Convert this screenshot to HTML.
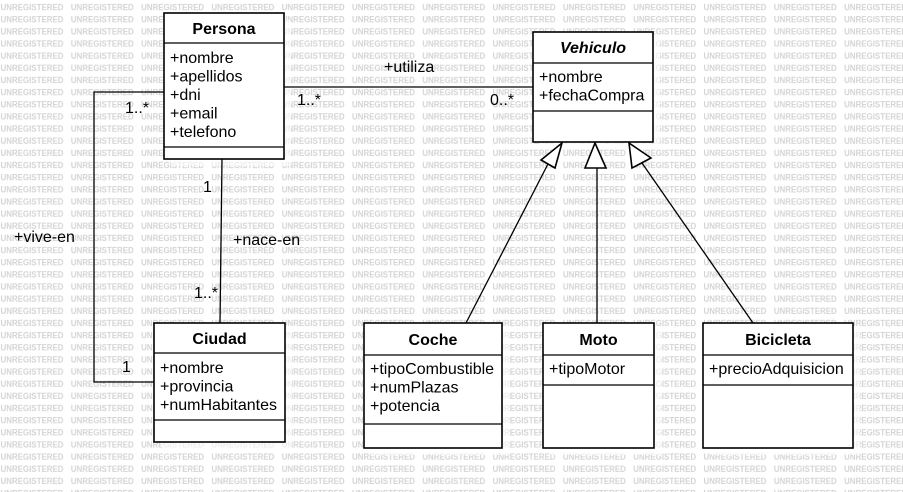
<!DOCTYPE html>
<html><head><meta charset="utf-8"><style>
html,body{margin:0;padding:0;background:#fff;}
svg{display:block;}
text{font-family:"Liberation Sans",Arial,sans-serif;}
.t{font-size:16px;font-weight:bold;text-anchor:middle;fill:#000;}
.a{font-size:16px;fill:#000;}
.l{font-size:16px;fill:#000;}
.b{fill:#fff;stroke:#000;stroke-width:1.6;}
.s{fill:#fff;opacity:0.6;}
.ln{stroke:#000;stroke-width:1.3;fill:none;}
</style></head><body>
<svg width="903" height="492" viewBox="0 0 903 492" xmlns="http://www.w3.org/2000/svg">
<defs>
<pattern id="wm" x="0" y="0" width="70.3" height="12.15" patternUnits="userSpaceOnUse">
<text x="0.5" y="10.3" font-size="9" font-weight="bold" fill="#d4d4d4" textLength="63" lengthAdjust="spacingAndGlyphs" style="font-family:'Liberation Sans',sans-serif">UNREGISTERED</text>
</pattern>
</defs>
<rect width="903" height="492" fill="#fff"/>
<rect width="903" height="492" fill="url(#wm)"/>

<rect class="s" x="171" y="20" width="120" height="146"/>
<rect class="s" x="540" y="39" width="120" height="110"/>
<rect class="s" x="161" y="330" width="131" height="119"/>
<rect class="s" x="370" y="330" width="139" height="125"/>
<rect class="s" x="550" y="330" width="111" height="125"/>
<rect class="s" x="710" y="330" width="150" height="125"/>

<polyline class="ln" points="164,92 94,92 94,382 154,382"/>
<line class="ln" x1="222" y1="159" x2="220" y2="323"/>
<line class="ln" x1="284" y1="87" x2="533" y2="87"/>
<line class="ln" x1="466" y1="323" x2="548" y2="164"/>
<line class="ln" x1="597" y1="323" x2="597" y2="168"/>
<line class="ln" x1="753" y1="323" x2="642" y2="163"/>
<polygon class="b" stroke-width="1.3" points="562,143 541,160 555,168"/>
<polygon class="b" stroke-width="1.3" points="595,143 585,168 606,168"/>
<polygon class="b" stroke-width="1.3" points="629,143 632,168 651,158"/>

<text class="l" x="125" y="113">1..*</text>
<text class="l" x="14" y="242">+vive-en</text>
<text class="l" x="122" y="372">1</text>
<text class="l" x="203" y="192">1</text>
<text class="l" x="233" y="245">+nace-en</text>
<text class="l" x="194" y="298">1..*</text>
<text class="l" x="384" y="72">+utiliza</text>
<text class="l" x="297" y="105" font-size="17">1..*</text>
<text class="l" x="490" y="105" font-size="17">0..*</text>

<rect class="b" x="164" y="13" width="120" height="146"/>
<line class="ln" stroke-width="1.6" x1="164" y1="43" x2="284" y2="43"/>
<line class="ln" stroke-width="1.6" x1="164" y1="147" x2="284" y2="147"/>
<text class="t" x="224" y="34">Persona</text>
<text class="a" x="170" y="63">+nombre</text>
<text class="a" x="170" y="81.5">+apellidos</text>
<text class="a" x="170" y="100">+dni</text>
<text class="a" x="170" y="118.5">+email</text>
<text class="a" x="170" y="137">+telefono</text>

<rect class="b" x="533" y="32" width="120" height="110"/>
<line class="ln" stroke-width="1.6" x1="533" y1="63" x2="653" y2="63"/>
<line class="ln" stroke-width="1.6" x1="533" y1="111" x2="653" y2="111"/>
<text class="t" x="593" y="53" font-style="italic">Vehiculo</text>
<text class="a" x="539" y="82">+nombre</text>
<text class="a" x="539" y="100.5">+fechaCompra</text>

<rect class="b" x="154" y="323" width="131" height="119"/>
<line class="ln" stroke-width="1.6" x1="154" y1="353" x2="285" y2="353"/>
<line class="ln" stroke-width="1.6" x1="154" y1="420" x2="285" y2="420"/>
<text class="t" x="219.5" y="344">Ciudad</text>
<text class="a" x="160" y="373">+nombre</text>
<text class="a" x="160" y="391.5">+provincia</text>
<text class="a" x="160" y="410">+numHabitantes</text>

<rect class="b" x="364" y="323" width="138" height="125"/>
<line class="ln" stroke-width="1.6" x1="364" y1="355" x2="502" y2="355"/>
<line class="ln" stroke-width="1.6" x1="364" y1="424" x2="502" y2="424"/>
<text class="t" x="433" y="345">Coche</text>
<text class="a" x="370" y="374">+tipoCombustible</text>
<text class="a" x="370" y="392.5">+numPlazas</text>
<text class="a" x="370" y="411">+potencia</text>

<rect class="b" x="543" y="323" width="111" height="125"/>
<line class="ln" stroke-width="1.6" x1="543" y1="355" x2="654" y2="355"/>
<line class="ln" stroke-width="1.6" x1="543" y1="385" x2="654" y2="385"/>
<text class="t" x="598.5" y="345">Moto</text>
<text class="a" x="549" y="374">+tipoMotor</text>

<rect class="b" x="703" y="323" width="150" height="125"/>
<line class="ln" stroke-width="1.6" x1="703" y1="355" x2="853" y2="355"/>
<line class="ln" stroke-width="1.6" x1="703" y1="385" x2="853" y2="385"/>
<text class="t" x="778" y="345">Bicicleta</text>
<text class="a" x="709" y="374">+precioAdquisicion</text>
</svg>
</body></html>
